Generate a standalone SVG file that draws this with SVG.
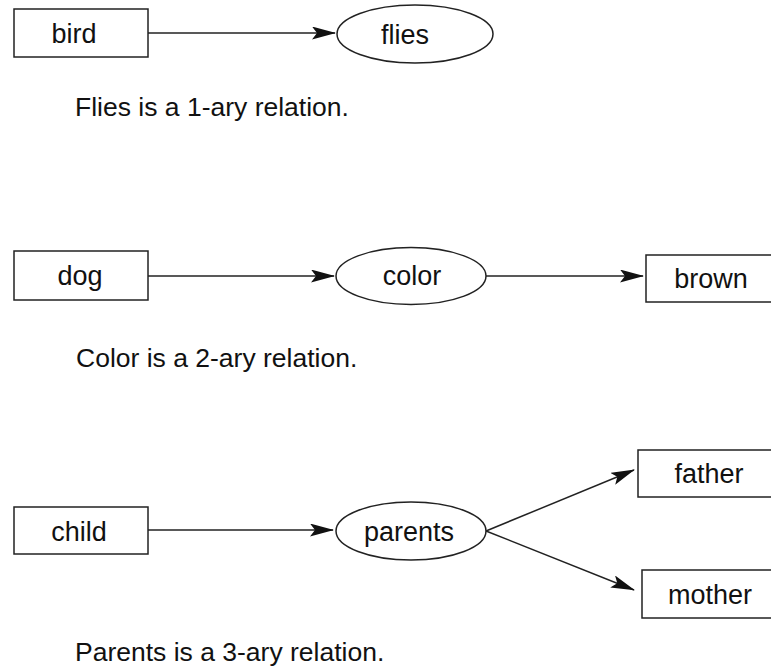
<svg xmlns="http://www.w3.org/2000/svg" width="771" height="670" viewBox="0 0 771 670">
  <style>
    .box { fill: #fff; stroke: #222; stroke-width: 1.5; }
    .rel { fill: #fff; stroke: #222; stroke-width: 1.5; }
    .lbl { font-family: "Liberation Sans", Arial, sans-serif; font-size: 27px; fill: #111; text-anchor: middle; }
    .cap { font-family: "Liberation Sans", Arial, sans-serif; font-size: 26.5px; fill: #111; }
    .edge { stroke: #222; stroke-width: 1.5; fill: none; marker-end: url(#arrow); }
  </style>
  <defs>
    <marker id="arrow" viewBox="0 0 24 13" markerWidth="24" markerHeight="13" refX="23" refY="6.5" orient="auto" markerUnits="userSpaceOnUse">
      <path d="M0,0 L24,6.5 L0,13 L5,6.5 z" fill="#111"/>
    </marker>
  </defs>

  <!-- 1-ary: bird -> flies -->
  <g id="bird">
    <rect class="box" x="14" y="9" width="134" height="48"/>
    <text class="lbl" x="74" y="43">bird</text>
  </g>
  <g id="flies">
    <ellipse class="rel" cx="415" cy="34" rx="78" ry="29"/>
    <text class="lbl" x="405" y="44">flies</text>
  </g>
  <text class="cap" x="75" y="116">Flies is a 1-ary relation.</text>

  <!-- 2-ary: dog -> color -> brown -->
  <g id="dog">
    <rect class="box" x="14" y="251" width="134" height="49"/>
    <text class="lbl" x="80" y="285">dog</text>
  </g>
  <g id="color">
    <ellipse class="rel" cx="411" cy="276" rx="75" ry="28.5"/>
    <text class="lbl" x="412" y="285">color</text>
  </g>
  <g id="brown">
    <rect class="box" x="646" y="255" width="140" height="47"/>
    <text class="lbl" x="711" y="288">brown</text>
  </g>
  <text class="cap" x="76" y="367">Color is a 2-ary relation.</text>

  <!-- 3-ary: child -> parents -> father, mother -->
  <g id="child">
    <rect class="box" x="14" y="507" width="134" height="47"/>
    <text class="lbl" x="79" y="541">child</text>
  </g>
  <g id="parents">
    <ellipse class="rel" cx="411" cy="531" rx="75" ry="29"/>
    <text class="lbl" x="409" y="541">parents</text>
  </g>
  <g id="father">
    <rect class="box" x="638" y="450" width="145" height="47"/>
    <text class="lbl" x="709" y="483">father</text>
  </g>
  <g id="mother">
    <rect class="box" x="642" y="570" width="145" height="48"/>
    <text class="lbl" x="710" y="604">mother</text>
  </g>
  <text class="cap" x="75" y="661">Parents is a 3-ary relation.</text>

  <g id="connectors">
    <line class="edge" x1="148" y1="33" x2="335" y2="33"/>
    <line class="edge" x1="148" y1="276" x2="334" y2="276"/>
    <line class="edge" x1="486" y1="276" x2="643" y2="276"/>
    <line class="edge" x1="148" y1="530" x2="333" y2="530"/>
    <line class="edge" x1="486" y1="531" x2="634" y2="470"/>
    <line class="edge" x1="486" y1="531" x2="634" y2="590"/>
  </g>
</svg>
